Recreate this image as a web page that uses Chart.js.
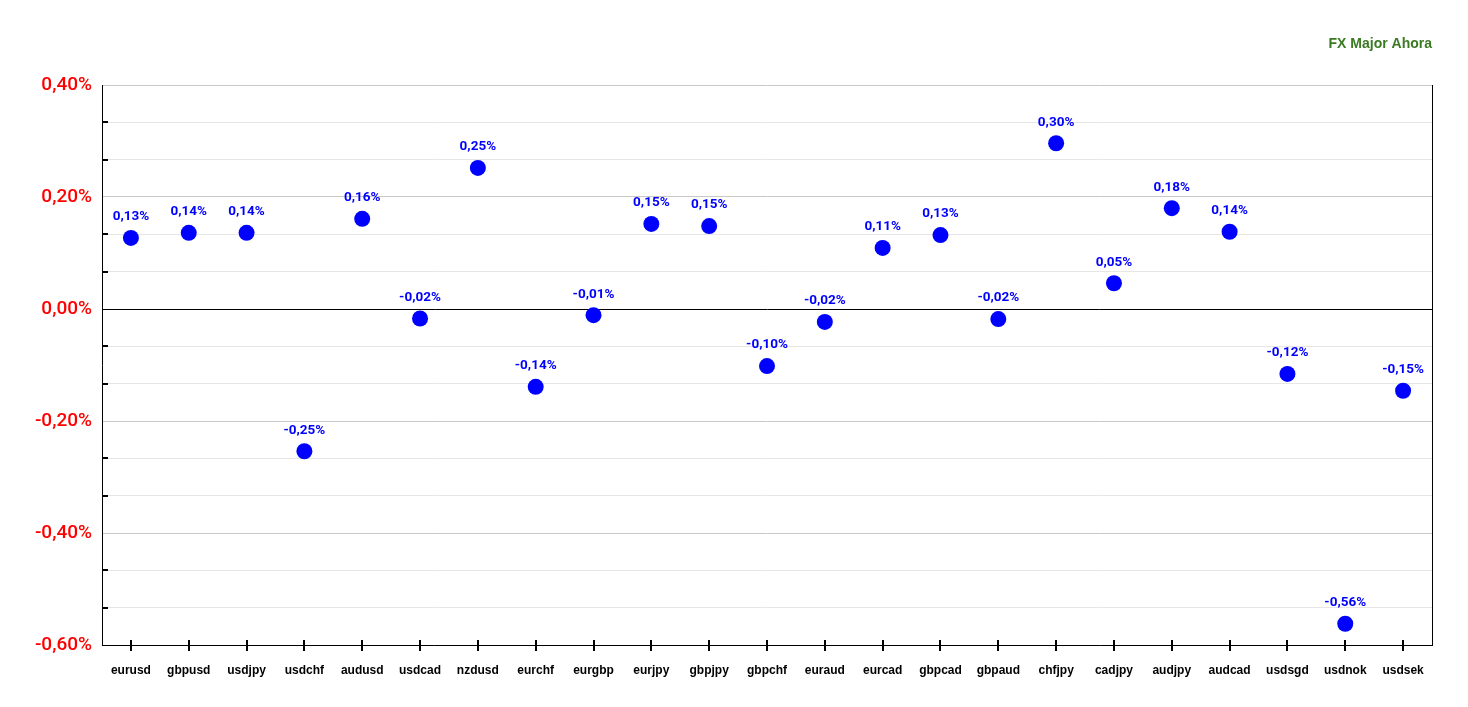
<!DOCTYPE html>
<html lang="es">
<head>
  <meta charset="UTF-8" />
  <title>FX Major Ahora</title>
  <script src="https://cdn.jsdelivr.net/npm/chart.js@4.4.3/dist/chart.umd.js"></script>
  <style>
    *{margin:0;padding:0;box-sizing:border-box}
    html,body{width:1468px;height:707px;background:#fff;overflow:hidden}
    #wrap{position:relative;width:1468px;height:707px}
  </style>
</head>
<body>
  <div id="wrap"><canvas id="fxChart"></canvas></div>

  <script>
    /* ==== DATA ==== */
    const pairs = ['eurusd','gbpusd','usdjpy','usdchf','audusd','usdcad','nzdusd','eurchf','eurgbp','eurjpy','gbpjpy','gbpchf',
                   'euraud','eurcad','gbpcad','gbpaud','chfjpy','cadjpy','audjpy','audcad','usdsgd','usdnok','usdsek'];
    const changes = [0.127,0.136,0.136,-0.254,0.161,-0.017,0.252,-0.139,-0.011,0.152,0.148,-0.102,
                     -0.023,0.109,0.132,-0.018,0.296,0.046,0.180,0.138,-0.116,-0.562,-0.146];
    const yMin = -0.6, yMax = 0.4, yMajor = 0.2;

    /* ==== HELPERS ==== */
    const fmt = v => { if (Math.abs(v) < 1e-9) v = 0; return v.toFixed(2).replace('.', ',') + '%'; };
    const isMajor = v => Math.abs(v / yMajor - Math.round(v / yMajor)) < 1e-6;

    /* value labels above points + axis tick marks + right border */
    const decor = {
      id: 'decor',
      afterDatasetsDraw(chart){
        const {ctx, chartArea:a, scales:{x, y}} = chart;
        ctx.save();
        ctx.strokeStyle = '#000';
        // right border
        ctx.lineWidth = 1;
        ctx.beginPath(); ctx.moveTo(a.right + 0.5, a.top); ctx.lineTo(a.right + 0.5, a.bottom); ctx.stroke();
        // minor y ticks (inside)
        ctx.lineWidth = 2;
        y.ticks.forEach(t => {
          if (isMajor(t.value)) return;
          const py = Math.round(y.getPixelForValue(t.value));
          ctx.beginPath(); ctx.moveTo(a.left, py); ctx.lineTo(a.left + 6, py); ctx.stroke();
        });
        // x ticks across bottom axis
        pairs.forEach((p, i) => {
          const px = Math.round(x.getPixelForValue(i));
          ctx.beginPath(); ctx.moveTo(px, a.bottom - 5); ctx.lineTo(px, a.bottom + 6); ctx.stroke();
        });
        // point labels
        const meta = chart.getDatasetMeta(0);
        ctx.fillStyle = '#0000ff';
        ctx.font = 'bold 13.5px Roboto, sans-serif';
        ctx.textAlign = 'center';
        ctx.textBaseline = 'middle';
        meta.data.forEach((pt, i) => ctx.fillText(fmt(changes[i]), pt.x, pt.y - 21));
        ctx.restore();
      }
    };

    /* ==== CHART ==== */
    new Chart(document.getElementById('fxChart'), {
      type: 'line',
      data: {
        labels: pairs,
        datasets: [{
          data: changes,
          showLine: false,
          pointRadius: 8,
          pointHoverRadius: 8,
          pointBackgroundColor: '#0000ff',
          pointBorderColor: '#0000ff',
          pointBorderWidth: 0
        }]
      },
      options: {
        responsive: true,
        maintainAspectRatio: false,
        animation: false,
        layout: { padding: { left: 0, right: 36, top: 0, bottom: 0 } },
        plugins: {
          legend: { display: false },
          tooltip: { enabled: false },
          title: {
            display: true,
            text: 'FX Major Ahora',
            align: 'end',
            color: '#3a7a22',
            font: { family: 'Arial, "Liberation Sans", sans-serif', size: 14, weight: 'bold', lineHeight: 1.2 },
            padding: { top: 36, bottom: 32.2 }
          }
        },
        scales: {
          x: {
            offset: true,
            grid: { display: false, offset: false },
            border: { color: '#000', width: 1 },
            ticks: {
              color: '#000',
              font: { family: 'Arial, "Liberation Sans", sans-serif', size: 12, weight: 'bold' },
              padding: 10,
              maxRotation: 0,
              autoSkip: false
            },
            afterFit: s => { s.height = 62; }
          },
          y: {
            min: yMin,
            max: yMax,
            grid: {
              drawTicks: false,
              color: c => {
                const v = c.tick.value;
                if (Math.abs(v) < 1e-9) return '#000';
                return isMajor(v) ? '#c8c8c8' : '#e6e6e6';
              }
            },
            border: { color: '#000', width: 1 },
            ticks: {
              stepSize: yMajor / 3,
              color: '#ff0000',
              font: { family: 'Roboto, sans-serif', size: 19, weight: '500' },
              padding: 10,
              autoSkip: false,
              callback: v => isMajor(v) ? fmt(v) : ''
            },
            afterFit: s => { s.width = 102; }
          }
        }
      },
      plugins: [decor]
    });
  </script>
</body>
</html>
